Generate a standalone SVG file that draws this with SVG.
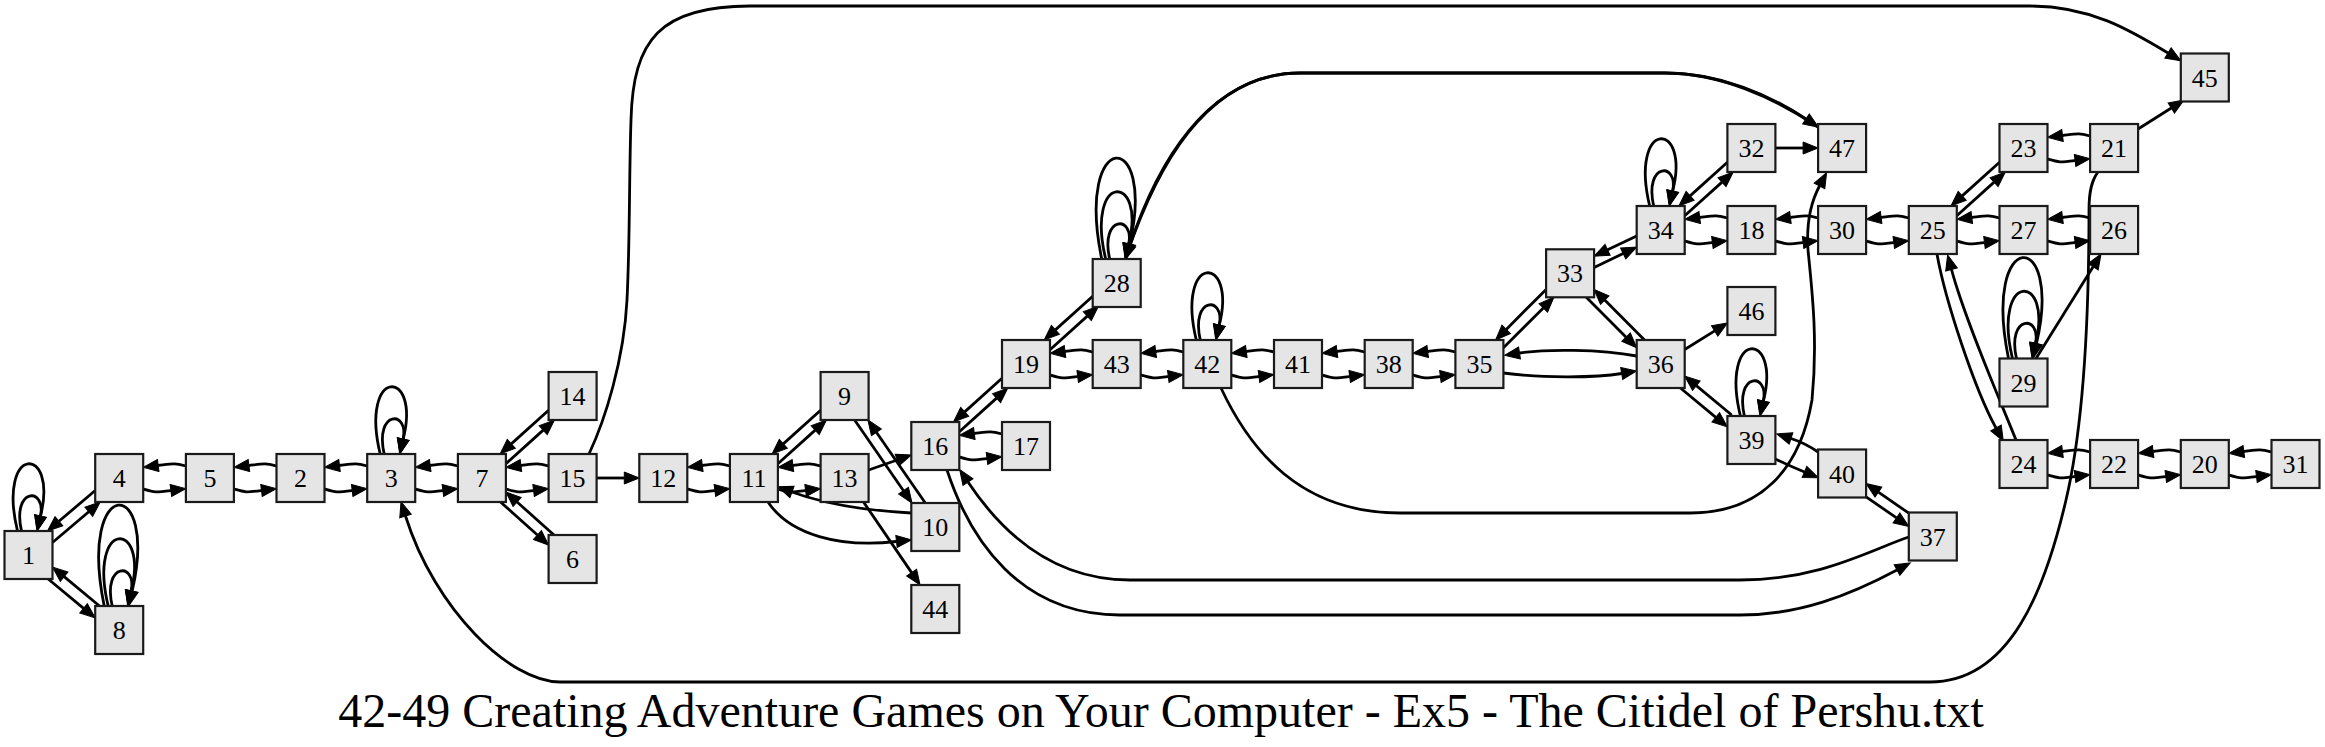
<svg xmlns="http://www.w3.org/2000/svg" width="2325" height="747" viewBox="0 0 2325 747">
<defs>
<marker id="ah" markerUnits="userSpaceOnUse" markerWidth="16" markerHeight="14" viewBox="0 -7 16 14" refX="0" refY="0" orient="auto" overflow="visible"><path d="M0,-6 L15,0 L0,6 z" fill="#000" stroke="#000" stroke-width="1"/></marker>
</defs>
<style>
.e{fill:none;stroke:#000;stroke-width:2.8;marker-end:url(#ah)}
.n rect{fill:#e5e5e5;stroke:#1a1a1a;stroke-width:2.2}
.n text{font-family:"Liberation Serif","Times New Roman",serif;font-size:26px;text-anchor:middle;fill:#000}
.t{font-family:"Liberation Serif","Times New Roman",serif;font-size:48px;text-anchor:middle;fill:#000}
</style>
<rect width="2325" height="747" fill="#fff"/>
<g id="edges">
<path id="e1-1a" class="e" d="M21.5,531 C11.5,487 46.5,487 40.5,516"/>
<path id="e1-1b" class="e" d="M17.5,531 C-3.5,444 58.5,444 40.5,516"/>
<path id="e8-8a" class="e" d="M112.2,606 C102.2,562 137.2,562 131.2,591"/>
<path id="e8-8b" class="e" d="M108.2,606 C87.2,519 149.2,519 131.2,591"/>
<path id="e8-8c" class="e" d="M104.2,606 C77.2,474 159.2,474 132.2,591"/>
<path id="e3-3a" class="e" d="M384.2,454 C374.2,410 409.2,410 403.2,439"/>
<path id="e3-3b" class="e" d="M380.2,454 C359.2,367 421.2,367 403.2,439"/>
<path id="e28-28a" class="e" d="M1109.7,259 C1099.7,215 1134.7,215 1128.7,244"/>
<path id="e28-28b" class="e" d="M1105.7,259 C1084.7,172 1146.7,172 1128.7,244"/>
<path id="e28-28c" class="e" d="M1101.7,259 C1074.7,127 1156.7,127 1129.7,244"/>
<path id="e42-42a" class="e" d="M1200.3,340 C1190.3,296 1225.3,296 1219.3,325"/>
<path id="e42-42b" class="e" d="M1196.3,340 C1175.3,253 1237.3,253 1219.3,325"/>
<path id="e34-34a" class="e" d="M1653.7,206 C1643.7,162 1678.7,162 1672.7,191"/>
<path id="e34-34b" class="e" d="M1649.7,206 C1628.7,119 1690.7,119 1672.7,191"/>
<path id="e39-39a" class="e" d="M1744.4,416 C1734.4,372 1769.4,372 1763.4,401"/>
<path id="e39-39b" class="e" d="M1740.4,416 C1719.4,329 1781.4,329 1763.4,401"/>
<path id="e29-29a" class="e" d="M2016.5,358.5 C2006.5,314.5 2041.5,314.5 2035.5,343.5"/>
<path id="e29-29b" class="e" d="M2012.5,358.5 C1991.5,271.5 2053.5,271.5 2035.5,343.5"/>
<path id="e29-29c" class="e" d="M2008.5,358.5 C1981.5,226.5 2063.5,226.5 2036.5,343.5"/>

<path id="e5-4" class="e" d="M185.9,466 C173.9,463 174.2,463.5 158.2,465.5"/>
<path id="e4-5" class="e" d="M143.2,489 C155.2,492.5 154.9,492.5 170.9,490.5"/>
<path id="e2-5" class="e" d="M276.5,466 C264.5,463 264.9,463.5 248.9,465.5"/>
<path id="e5-2" class="e" d="M233.9,489 C245.9,492.5 245.5,492.5 261.5,490.5"/>
<path id="e3-2" class="e" d="M367.2,466 C355.2,463 355.5,463.5 339.5,465.5"/>
<path id="e2-3" class="e" d="M324.5,489 C336.5,492.5 336.2,492.5 352.2,490.5"/>
<path id="e7-3" class="e" d="M457.9,466 C445.9,463 446.2,463.5 430.2,465.5"/>
<path id="e3-7" class="e" d="M415.2,489 C427.2,492.5 426.9,492.5 442.9,490.5"/>
<path id="e15-7" class="e" d="M548.6,466 C536.6,463 536.9,463.5 520.9,465.5"/>
<path id="e7-15" class="e" d="M505.9,489 C517.9,492.5 517.6,492.5 533.6,490.5"/>
<path id="e11-12" class="e" d="M729.9,466 C717.9,463 718.3,463.5 702.3,465.5"/>
<path id="e12-11" class="e" d="M687.3,489 C699.3,492.5 698.9,492.5 714.9,490.5"/>
<path id="e13-11" class="e" d="M820.6,466 C808.6,463 808.9,463.5 792.9,465.5"/>
<path id="e11-13" class="e" d="M777.9,489 C789.9,492.5 789.6,492.5 805.6,490.5"/>
<path id="e17-16" class="e" d="M1002,434 C990,431 990.3,431.5 974.3,433.5"/>
<path id="e16-17" class="e" d="M959.3,457 C971.3,460.5 971,460.5 987,458.5"/>
<path id="e43-19" class="e" d="M1092.7,352 C1080.7,349 1081,349.5 1065,351.5"/>
<path id="e19-43" class="e" d="M1050,375 C1062,378.5 1061.7,378.5 1077.7,376.5"/>
<path id="e42-43" class="e" d="M1183.3,352 C1171.3,349 1171.7,349.5 1155.7,351.5"/>
<path id="e43-42" class="e" d="M1140.7,375 C1152.7,378.5 1152.3,378.5 1168.3,376.5"/>
<path id="e41-42" class="e" d="M1274,352 C1262,349 1262.3,349.5 1246.3,351.5"/>
<path id="e42-41" class="e" d="M1231.3,375 C1243.3,378.5 1243,378.5 1259,376.5"/>
<path id="e38-41" class="e" d="M1364.7,352 C1352.7,349 1353,349.5 1337,351.5"/>
<path id="e41-38" class="e" d="M1322,375 C1334,378.5 1333.7,378.5 1349.7,376.5"/>
<path id="e35-38" class="e" d="M1455.4,352 C1443.4,349 1443.7,349.5 1427.7,351.5"/>
<path id="e38-35" class="e" d="M1412.7,375 C1424.7,378.5 1424.4,378.5 1440.4,376.5"/>
<path id="e18-34" class="e" d="M1727.4,218 C1715.4,215 1715.7,215.5 1699.7,217.5"/>
<path id="e34-18" class="e" d="M1684.7,241 C1696.7,244.5 1696.4,244.5 1712.4,242.5"/>
<path id="e30-18" class="e" d="M1818.1,218 C1806.1,215 1806.4,215.5 1790.4,217.5"/>
<path id="e18-30" class="e" d="M1775.4,241 C1787.4,244.5 1787.1,244.5 1803.1,242.5"/>
<path id="e25-30" class="e" d="M1908.8,218 C1896.8,215 1897.1,215.5 1881.1,217.5"/>
<path id="e30-25" class="e" d="M1866.1,241 C1878.1,244.5 1877.8,244.5 1893.8,242.5"/>
<path id="e27-25" class="e" d="M1999.5,218 C1987.5,215 1987.8,215.5 1971.8,217.5"/>
<path id="e25-27" class="e" d="M1956.8,241 C1968.8,244.5 1968.5,244.5 1984.5,242.5"/>
<path id="e26-27" class="e" d="M2090.1,218 C2078.1,215 2078.5,215.5 2062.5,217.5"/>
<path id="e27-26" class="e" d="M2047.5,241 C2059.5,244.5 2059.1,244.5 2075.1,242.5"/>
<path id="e21-23" class="e" d="M2090.1,136 C2078.1,133 2078.5,133.5 2062.5,135.5"/>
<path id="e23-21" class="e" d="M2047.5,159 C2059.5,162.5 2059.1,162.5 2075.1,160.5"/>
<path id="e22-24" class="e" d="M2090.1,452 C2078.1,449 2078.5,449.5 2062.5,451.5"/>
<path id="e24-22" class="e" d="M2047.5,475 C2059.5,478.5 2059.1,478.5 2075.1,476.5"/>
<path id="e20-22" class="e" d="M2180.8,452 C2168.8,449 2169.1,449.5 2153.1,451.5"/>
<path id="e22-20" class="e" d="M2138.1,475 C2150.1,478.5 2149.8,478.5 2165.8,476.5"/>
<path id="e31-20" class="e" d="M2271.5,452 C2259.5,449 2259.8,449.5 2243.8,451.5"/>
<path id="e20-31" class="e" d="M2228.8,475 C2240.8,478.5 2240.5,478.5 2256.5,476.5"/>

<path id="e1-4" class="e" d="M52.5,542.5 L88.8,511.7"/>
<path id="e4-1" class="e" d="M95.2,490.5 L58.9,521.3"/>
<path id="e1-8" class="e" d="M48.2,579 L83.6,608.3"/>
<path id="e8-1" class="e" d="M99.5,606 L64.1,576.7"/>
<path id="e7-14" class="e" d="M505.9,463.7 L543.2,430.1"/>
<path id="e14-7" class="e" d="M548.6,410.3 L511.3,443.9"/>
<path id="e7-6" class="e" d="M500.5,502 L537.4,535"/>
<path id="e6-7" class="e" d="M554,535 L517.1,502"/>
<path id="e11-9" class="e" d="M777.9,463.7 L815.2,430.1"/>
<path id="e9-11" class="e" d="M820.6,410.3 L783.3,443.9"/>
<path id="e16-19" class="e" d="M959.3,431.7 L996.6,398.1"/>
<path id="e19-16" class="e" d="M1002,378.3 L964.7,411.9"/>
<path id="e19-28" class="e" d="M1050,349.7 L1087.3,316.1"/>
<path id="e28-19" class="e" d="M1092.7,296.3 L1055.4,329.9"/>
<path id="e35-33" class="e" d="M1503.4,347.8 L1543.3,307.9"/>
<path id="e33-35" class="e" d="M1546.1,289.5 L1506.2,329.4"/>
<path id="e33-34" class="e" d="M1594.1,267.4 L1623.2,253.5"/>
<path id="e34-33" class="e" d="M1636.7,235.9 L1607.6,249.8"/>
<path id="e33-36" class="e" d="M1586.3,297.3 L1626.1,337.2"/>
<path id="e36-33" class="e" d="M1644.5,340 L1604.7,300.1"/>
<path id="e34-32" class="e" d="M1684.7,215.7 L1722,182.1"/>
<path id="e32-34" class="e" d="M1727.4,162.3 L1690.1,195.9"/>
<path id="e36-39" class="e" d="M1680.4,388 L1715.8,417.3"/>
<path id="e39-36" class="e" d="M1731.7,415 L1696.3,385.7"/>
<path id="e25-23" class="e" d="M1956.8,215.7 L1994.1,182.1"/>
<path id="e23-25" class="e" d="M1999.5,162.3 L1962.2,195.9"/>
<path id="e25-24" class="e" d="M1937,254 C1945,300 1975,390 1996,428"/>
<path id="e24-25" class="e" d="M2016,440 C2000,400 1965,320 1951.5,269.5"/>
<path id="e40-37" class="e" d="M1866.1,496.8 L1896.5,517.9"/>
<path id="e37-40" class="e" d="M1908.8,513.2 L1878.4,492.1"/>
<path id="e40-39" class="e" d="M1818.1,452 Q1805,443 1791,438.5"/>
<path id="e39-40" class="e" d="M1775.4,459 Q1790,466 1804.5,472"/>
<path id="e9-10" class="e" d="M854.6,420 L903.5,490.7"/>
<path id="e10-9" class="e" d="M925.3,503 L876.4,432.3"/>
<path id="e10-11" class="e" d="M911.3,513 C875,511 830,506 792,492"/>
<path id="e11-10" class="e" d="M768,502 C790,535 840,548 896.5,541.5"/>
<path id="e36-35" class="e" d="M1636.7,356 C1600,349 1545,349 1519.5,353"/>
<path id="e35-36" class="e" d="M1503.4,373 C1540,378 1595,378 1621.7,373.5"/>
<path id="e13-16" class="e" d="M868.6,470 L897.2,460"/>
<path id="e13-44" class="e" d="M863.5,502 L911.6,572.6"/>
<path id="e36-46" class="e" d="M1684.7,349.5 L1714.7,330.9"/>
<path id="e15-12" class="e" d="M596.6,478 L624.3,478"/>
<path id="e32-47" class="e" d="M1775.4,148 L1803.1,148"/>
<path id="e21-45" class="e" d="M2138.1,129 L2171.3,108"/>
<path id="e29-26" class="e" d="M2036,358.5 L2093.1,266.7"/>
<path id="e15-45" class="e" d="M589,454 C605,420 624,360 627,300 C630,240 629,180 631,120 C633,40 660,6 750,6 L2030,6 C2090,6 2130,30 2168,53"/>
<path id="e21-3" class="e" d="M2098,172 C2092,180 2089,190 2089,210 C2089,300 2085,420 2066,500 C2045,590 2010,682 1930,682 L560,682 C510,682 435,610 405.5,516"/>
<path id="e42-47" class="e" d="M1221,388 C1250,450 1300,513 1400,513 L1690,513 C1760,513 1800,470 1812,400 C1818,340 1812,290 1808,250 C1806,220 1812,200 1819.5,186"/>
<path id="e28-47" class="e" d="M1125.3,259 C1155,170 1205,73 1300,73 L1665,73 C1720,73 1770,95 1806,119"/>
<path id="e47-28" class="e" d="M1818,127 C1775,98 1720,73 1665,73 L1300,73 C1205,73 1155,170 1130,245"/>
<path id="e16-37" class="e" d="M947,470 C970,540 1020,615 1120,615 L1740,615 C1800,615 1850,595 1897,570"/>
<path id="e37-16" class="e" d="M1908.8,537 C1870,550 1820,580 1740,580 L1130,580 C1050,580 1000,530 968,482"/>
</g>

<g id="node-1" class="n"><rect x="4.5" y="531" width="48" height="48"/><text x="28.5" y="564">1</text></g>
<g id="node-4" class="n"><rect x="95.2" y="454" width="48" height="48"/><text x="119.2" y="487">4</text></g>
<g id="node-8" class="n"><rect x="95.2" y="606" width="48" height="48"/><text x="119.2" y="639">8</text></g>
<g id="node-5" class="n"><rect x="185.9" y="454" width="48" height="48"/><text x="209.9" y="487">5</text></g>
<g id="node-2" class="n"><rect x="276.5" y="454" width="48" height="48"/><text x="300.5" y="487">2</text></g>
<g id="node-3" class="n"><rect x="367.2" y="454" width="48" height="48"/><text x="391.2" y="487">3</text></g>
<g id="node-7" class="n"><rect x="457.9" y="454" width="48" height="48"/><text x="481.9" y="487">7</text></g>
<g id="node-14" class="n"><rect x="548.6" y="372" width="48" height="48"/><text x="572.6" y="405">14</text></g>
<g id="node-15" class="n"><rect x="548.6" y="454" width="48" height="48"/><text x="572.6" y="487">15</text></g>
<g id="node-6" class="n"><rect x="548.6" y="535" width="48" height="48"/><text x="572.6" y="568">6</text></g>
<g id="node-12" class="n"><rect x="639.3" y="454" width="48" height="48"/><text x="663.3" y="487">12</text></g>
<g id="node-11" class="n"><rect x="729.9" y="454" width="48" height="48"/><text x="753.9" y="487">11</text></g>
<g id="node-9" class="n"><rect x="820.6" y="372" width="48" height="48"/><text x="844.6" y="405">9</text></g>
<g id="node-13" class="n"><rect x="820.6" y="454" width="48" height="48"/><text x="844.6" y="487">13</text></g>
<g id="node-16" class="n"><rect x="911.3" y="422" width="48" height="48"/><text x="935.3" y="455">16</text></g>
<g id="node-10" class="n"><rect x="911.3" y="503" width="48" height="48"/><text x="935.3" y="536">10</text></g>
<g id="node-44" class="n"><rect x="911.3" y="585" width="48" height="48"/><text x="935.3" y="618">44</text></g>
<g id="node-19" class="n"><rect x="1002" y="340" width="48" height="48"/><text x="1026" y="373">19</text></g>
<g id="node-17" class="n"><rect x="1002" y="422" width="48" height="48"/><text x="1026" y="455">17</text></g>
<g id="node-28" class="n"><rect x="1092.7" y="259" width="48" height="48"/><text x="1116.7" y="292">28</text></g>
<g id="node-43" class="n"><rect x="1092.7" y="340" width="48" height="48"/><text x="1116.7" y="373">43</text></g>
<g id="node-42" class="n"><rect x="1183.3" y="340" width="48" height="48"/><text x="1207.3" y="373">42</text></g>
<g id="node-41" class="n"><rect x="1274" y="340" width="48" height="48"/><text x="1298" y="373">41</text></g>
<g id="node-38" class="n"><rect x="1364.7" y="340" width="48" height="48"/><text x="1388.7" y="373">38</text></g>
<g id="node-35" class="n"><rect x="1455.4" y="340" width="48" height="48"/><text x="1479.4" y="373">35</text></g>
<g id="node-33" class="n"><rect x="1546.1" y="249.3" width="48" height="48"/><text x="1570.1" y="282.3">33</text></g>
<g id="node-34" class="n"><rect x="1636.7" y="206" width="48" height="48"/><text x="1660.7" y="239">34</text></g>
<g id="node-36" class="n"><rect x="1636.7" y="340" width="48" height="48"/><text x="1660.7" y="373">36</text></g>
<g id="node-32" class="n"><rect x="1727.4" y="124" width="48" height="48"/><text x="1751.4" y="157">32</text></g>
<g id="node-18" class="n"><rect x="1727.4" y="206" width="48" height="48"/><text x="1751.4" y="239">18</text></g>
<g id="node-46" class="n"><rect x="1727.4" y="287" width="48" height="48"/><text x="1751.4" y="320">46</text></g>
<g id="node-39" class="n"><rect x="1727.4" y="416" width="48" height="48"/><text x="1751.4" y="449">39</text></g>
<g id="node-47" class="n"><rect x="1818.1" y="124" width="48" height="48"/><text x="1842.1" y="157">47</text></g>
<g id="node-30" class="n"><rect x="1818.1" y="206" width="48" height="48"/><text x="1842.1" y="239">30</text></g>
<g id="node-40" class="n"><rect x="1818.1" y="449.5" width="48" height="48"/><text x="1842.1" y="482.5">40</text></g>
<g id="node-25" class="n"><rect x="1908.8" y="206" width="48" height="48"/><text x="1932.8" y="239">25</text></g>
<g id="node-37" class="n"><rect x="1908.8" y="512.5" width="48" height="48"/><text x="1932.8" y="545.5">37</text></g>
<g id="node-23" class="n"><rect x="1999.5" y="124" width="48" height="48"/><text x="2023.5" y="157">23</text></g>
<g id="node-27" class="n"><rect x="1999.5" y="206" width="48" height="48"/><text x="2023.5" y="239">27</text></g>
<g id="node-29" class="n"><rect x="1999.5" y="358.5" width="48" height="48"/><text x="2023.5" y="391.5">29</text></g>
<g id="node-24" class="n"><rect x="1999.5" y="440" width="48" height="48"/><text x="2023.5" y="473">24</text></g>
<g id="node-21" class="n"><rect x="2090.1" y="124" width="48" height="48"/><text x="2114.1" y="157">21</text></g>
<g id="node-26" class="n"><rect x="2090.1" y="206" width="48" height="48"/><text x="2114.1" y="239">26</text></g>
<g id="node-22" class="n"><rect x="2090.1" y="440" width="48" height="48"/><text x="2114.1" y="473">22</text></g>
<g id="node-45" class="n"><rect x="2180.8" y="53.5" width="48" height="48"/><text x="2204.8" y="86.5">45</text></g>
<g id="node-20" class="n"><rect x="2180.8" y="440" width="48" height="48"/><text x="2204.8" y="473">20</text></g>
<g id="node-31" class="n"><rect x="2271.5" y="440" width="48" height="48"/><text x="2295.5" y="473">31</text></g>

<text class="t" x="1161" y="727">42-49 Creating Adventure Games on Your Computer - Ex5 - The Citidel of Pershu.txt</text>
</svg>
